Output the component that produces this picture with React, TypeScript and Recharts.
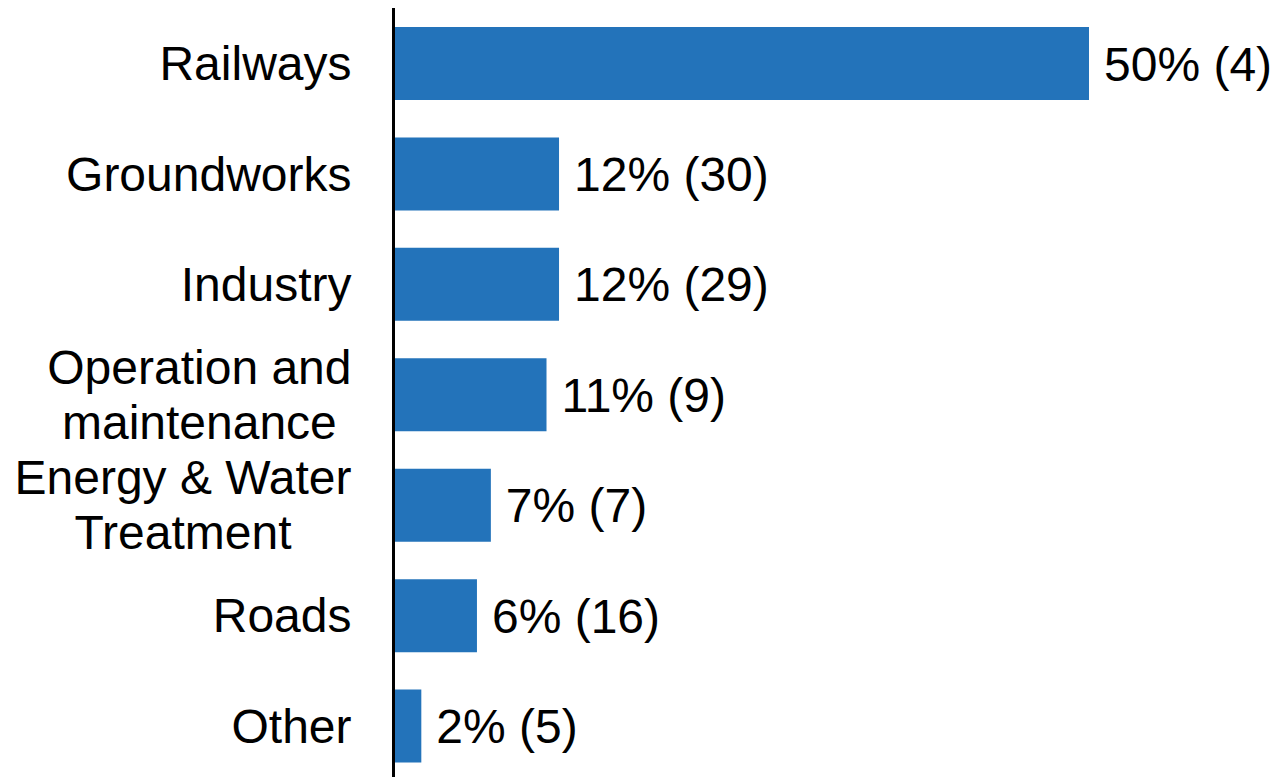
import React from 'react';
import { BarChart, Bar, XAxis, YAxis, LabelList } from 'recharts';

// sector split: share of value (%) and number of projects
const categories = [
    'Railways',
    'Groundworks',
    'Industry',
    'Operation and\nmaintenance',
    'Energy & Water\nTreatment',
    'Roads',
    'Other'
];
const shares = [50, 11.9, 11.9, 11, 7, 6, 2];
const counts = [4, 30, 29, 9, 7, 16, 5];

const data = categories.map((name, i) => ({
    name,
    share: shares[i],
    label: `${Math.round(shares[i])}% (${counts[i]})`
}));

const FONT = '"Liberation Sans", Arial, sans-serif';
const FONT_SIZE = 48;
const LINE_HEIGHT = 55;
const BAR_COLOR = '#2373BA';

let ctx: CanvasRenderingContext2D | null = null;
const measure = (s: string) => {
    if (!ctx) ctx = document.createElement('canvas').getContext('2d');
    if (!ctx) return s.length * FONT_SIZE * 0.55;
    ctx.font = `${FONT_SIZE}px ${FONT}`;
    return ctx.measureText(s).width;
};

const CategoryTick = ({ x, y, payload }: any) => {
    const lines = String(payload.value).split('\n');
    if (lines.length === 1) {
        return (
            <text x={x} y={y} dy="0.355em" textAnchor="end" fill="#000" fontSize={FONT_SIZE} fontFamily={FONT}>
                {lines[0]}
            </text>
        );
    }
    // multi-line labels: lines centred within a right-aligned block
    const blockWidth = Math.max(...lines.map(measure));
    const cx = x - blockWidth / 2;
    const top = y - ((lines.length - 1) * LINE_HEIGHT) / 2;
    return (
        <text textAnchor="middle" fill="#000" fontSize={FONT_SIZE} fontFamily={FONT}>
            {lines.map((line, i) => (
                <tspan key={i} x={cx} y={top + i * LINE_HEIGHT} dy="0.355em">
                    {line}
                </tspan>
            ))}
        </text>
    );
};

const App: React.FC = () => {
    return (
        <div
            style={{
                position: 'fixed',
                top: 0,
                left: 0,
                width: 1278,
                height: 777,
                overflow: 'hidden',
                background: '#fff'
            }}
        >
            <BarChart
                layout="vertical"
                width={1278}
                height={781}
                data={data}
                margin={{ top: 8, right: 189, bottom: 0, left: 0 }}
                barSize={73}
            >
                <XAxis type="number" domain={[0, 50]} hide />
                <YAxis
                    type="category"
                    dataKey="name"
                    width={393.5}
                    axisLine={{ stroke: '#000', strokeWidth: 3 }}
                    tickLine={false}
                    tickSize={0}
                    tickMargin={42}
                    tick={<CategoryTick />}
                    interval={0}
                />
                <Bar dataKey="share" fill={BAR_COLOR} isAnimationActive={false}>
                    <LabelList
                        dataKey="label"
                        position="right"
                        offset={15}
                        fill="#000"
                        fontSize={FONT_SIZE}
                        fontFamily={FONT}
                    />
                </Bar>
            </BarChart>
        </div>
    );
};

export default App;
